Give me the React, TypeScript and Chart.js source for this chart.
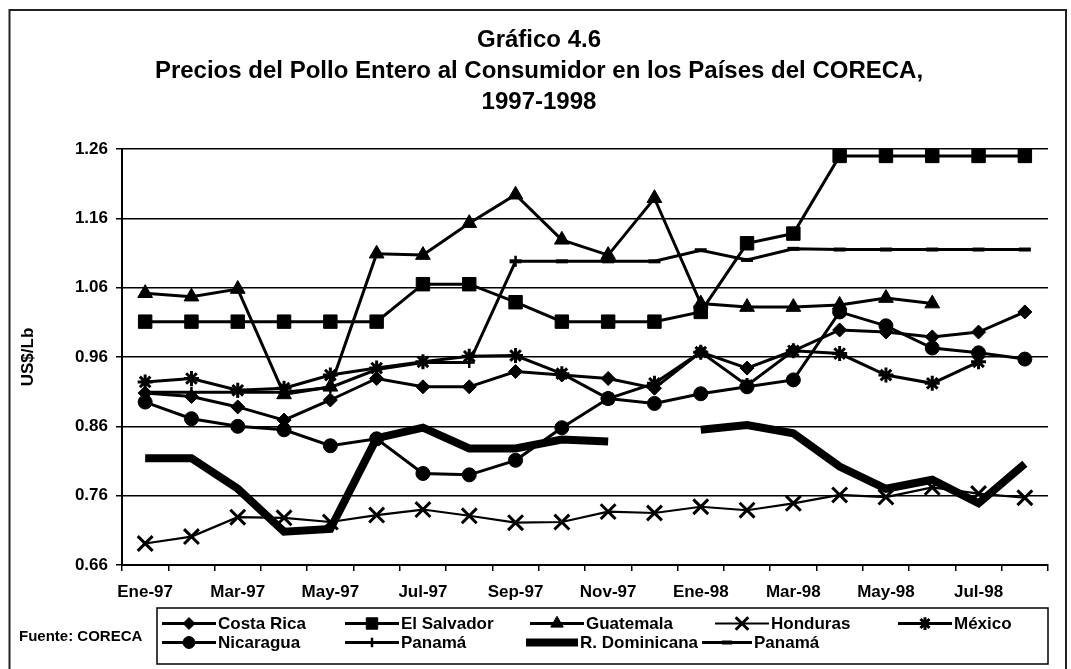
import React, { useEffect, useRef } from 'react';
import { Chart, registerables } from 'chart.js';
import { drawPoint } from 'chart.js/helpers';

Chart.register(...registerables);

const months = [
  'Ene-97', 'Feb-97', 'Mar-97', 'Abr-97', 'May-97', 'Jun-97', 'Jul-97', 'Ago-97', 'Sep-97', 'Oct-97', 'Nov-97', 'Dic-97',
  'Ene-98', 'Feb-98', 'Mar-98', 'Abr-98', 'May-98', 'Jun-98', 'Jul-98', 'Ago-98',
];

const costaRica = [0.908, 0.903, 0.888, 0.869, 0.898, 0.929, 0.917, 0.917, 0.939, 0.934, 0.929, 0.915, 0.967, 0.944, 0.969, 0.999, 0.996, 0.989, 0.996, 1.025];
const elSalvador = [1.011, 1.011, 1.011, 1.011, 1.011, 1.011, 1.065, 1.065, 1.039, 1.011, 1.011, 1.011, 1.025, 1.124, 1.138, 1.25, 1.25, 1.25, 1.25, 1.25];
const guatemala = [1.052, 1.047, 1.058, 0.906, 0.917, 1.109, 1.107, 1.153, 1.194, 1.129, 1.107, 1.189, 1.037, 1.032, 1.032, 1.035, 1.045, 1.037, null, null];
const honduras = [0.691, 0.701, 0.729, 0.728, 0.722, 0.732, 0.74, 0.731, 0.721, 0.722, 0.737, 0.735, 0.744, 0.739, 0.749, 0.761, 0.758, 0.772, 0.763, 0.757];
const mexico = [0.924, 0.929, 0.912, 0.915, 0.934, 0.944, 0.953, 0.961, 0.962, 0.936, 0.9, 0.922, 0.967, 0.919, 0.969, 0.965, 0.934, 0.922, 0.953, null];
const nicaragua = [0.895, 0.871, 0.86, 0.855, 0.832, 0.842, 0.792, 0.79, 0.811, 0.858, 0.9, 0.893, 0.907, 0.917, 0.927, 1.025, 1.005, 0.973, 0.966, 0.957];
const panama1 = [0.909, 0.909, 0.909, 0.909, 0.916, 0.942, 0.952, 0.952, 1.098, null, null, null, null, null, null, null, null, null, null, null];
const rDominicana = [0.814, 0.814, 0.77, 0.708, 0.712, 0.843, 0.858, 0.828, 0.828, 0.841, 0.838, null, 0.855, 0.862, 0.85, 0.802, 0.77, 0.783, 0.749, 0.806];
const panama2 = [null, null, null, null, null, null, null, null, 1.098, 1.098, 1.098, 1.098, 1.114, 1.1, 1.116, 1.115, 1.115, 1.115, 1.115, 1.115];

const yTicks = [0.66, 0.76, 0.86, 0.96, 1.06, 1.16, 1.26];
const titleLines = ['Gráfico 4.6', 'Precios del Pollo Entero al Consumidor en los Países del CORECA,', '1997-1998'];
const yAxisTitle = 'US$/Lb';
const sourceNote = 'Fuente: CORECA';

const FONT = 'Liberation Sans';

type Series = {
  label: string;
  data: (number | null)[];
  pointStyle: any;
  radius: number;
  width: number;
  pointBorder: number;
};

const series: Series[] = [
  { label: 'Costa Rica', data: costaRica, pointStyle: 'rectRot', radius: 7, width: 3, pointBorder: 1 },
  { label: 'El Salvador', data: elSalvador, pointStyle: 'rect', radius: 9.5, width: 3, pointBorder: 1 },
  { label: 'Guatemala', data: guatemala, pointStyle: 'triangle', radius: 8.5, width: 3, pointBorder: 1 },
  { label: 'Honduras', data: honduras, pointStyle: 'crossRot', radius: 10.5, width: 2.2, pointBorder: 3 },
  { label: 'México', data: mexico, pointStyle: 'star', radius: 7.5, width: 3, pointBorder: 3 },
  { label: 'Nicaragua', data: nicaragua, pointStyle: 'circle', radius: 7, width: 3, pointBorder: 1 },
  { label: 'Panamá', data: panama1, pointStyle: 'cross', radius: 5.5, width: 3, pointBorder: 2.5 },
  { label: 'R. Dominicana', data: rDominicana, pointStyle: false, radius: 0, width: 8, pointBorder: 0 },
  { label: 'Panamá', data: panama2, pointStyle: 'line', radius: 6, width: 3, pointBorder: 4 },
];

// legend slot positions (layout only)
const legendSlots = [
  { x: 162, y: 623.5 }, { x: 345, y: 623.5 }, { x: 530, y: 623.5 }, { x: 715, y: 623.5 }, { x: 898, y: 623.5 },
  { x: 162, y: 642.5 }, { x: 345, y: 642.5 }, { x: 526, y: 642.5 }, { x: 702, y: 642.5 },
];
const sampleLens = [54, 54, 54, 54, 54, 54, 54, 52, 50];

const decorPlugin = {
  id: 'decor',
  afterDraw(chart: any) {
    const ctx = chart.ctx as CanvasRenderingContext2D;
    ctx.save();
    // outer frame
    ctx.strokeStyle = '#222';
    ctx.lineWidth = 2;
    ctx.beginPath();
    ctx.moveTo(9.5, 680);
    ctx.lineTo(9.5, 10);
    ctx.lineTo(1066, 10);
    ctx.lineTo(1066, 680);
    ctx.stroke();

    // legend box
    ctx.strokeStyle = '#000';
    ctx.lineWidth = 1.5;
    ctx.strokeRect(157, 608, 891, 56);

    ctx.font = `bold 17px "${FONT}"`;
    ctx.textBaseline = 'middle';
    ctx.textAlign = 'left';
    chart.data.datasets.forEach((ds: any, i: number) => {
      const slot = legendSlots[i];
      if (!slot) return;
      const sampleLen = sampleLens[i];
      ctx.strokeStyle = '#000';
      ctx.fillStyle = '#000';
      ctx.lineWidth = ds.borderWidth;
      ctx.lineCap = 'butt';
      ctx.beginPath();
      ctx.moveTo(slot.x, slot.y);
      ctx.lineTo(slot.x + sampleLen, slot.y);
      ctx.stroke();
      if (ds.pointStyle) {
        ctx.lineWidth = ds.pointBorderWidth;
        drawPoint(ctx, { pointStyle: ds.pointStyle, radius: ds.pointRadius * 0.85, rotation: 0, borderWidth: ds.pointBorderWidth }, slot.x + sampleLen / 2, slot.y);
      }
      ctx.fillStyle = '#000';
      ctx.fillText(ds.label, slot.x + sampleLen + 2, slot.y + 1);
    });

    // source note
    ctx.font = `bold 15px "${FONT}"`;
    ctx.fillText(sourceNote, 19, 637);
    ctx.restore();
  },
};

export default function App() {
  const ref = useRef<HTMLCanvasElement | null>(null);

  useEffect(() => {
    if (!ref.current) return;
    const chart = new Chart(ref.current, {
      type: 'line',
      data: {
        labels: months,
        datasets: series.map((s) => ({
          label: s.label,
          data: s.data,
          borderColor: '#000',
          backgroundColor: '#000',
          borderWidth: s.width,
          pointStyle: s.pointStyle,
          pointRadius: s.radius,
          pointBorderWidth: s.pointBorder,
          pointBorderColor: '#000',
          pointBackgroundColor: '#000',
          tension: 0,
          spanGaps: false,
          fill: false,
          borderJoinStyle: 'miter' as const,
        })),
      },
      options: {
        animation: false,
        responsive: false,
        maintainAspectRatio: false,
        layout: { padding: { left: 30, right: 23, top: 0, bottom: 0 } },
        plugins: {
          legend: { display: false },
          tooltip: { enabled: false },
          title: {
            display: true,
            text: titleLines,
            color: '#000',
            font: { family: FONT, weight: 'bold', size: 24, lineHeight: 31 / 24 },
            padding: { top: 24.5, bottom: 31.5 },
          },
        },
        scales: {
          x: {
            type: 'category',
            offset: true,
            grid: {
              display: true,
              drawOnChartArea: false,
              drawTicks: true,
              tickLength: 6,
              offset: true,
              color: '#000',
              lineWidth: 1.5,
            },
            border: { display: true, color: '#000', width: 2 },
            ticks: {
              color: '#000',
              font: { family: FONT, weight: 'bold', size: 17 },
              padding: 11,
              autoSkip: false,
              maxRotation: 0,
              callback: (_v: any, i: number) => (i % 2 === 0 ? months[i] : ''),
            },
            afterFit: (scale: any) => {
              scale.height = 104;
            },
          },
          y: {
            min: 0.66,
            max: 1.26,
            afterBuildTicks: (scale: any) => {
              scale.ticks = yTicks.map((v) => ({ value: v }));
            },
            grid: { color: '#000', lineWidth: 1.5, tickLength: 6, drawTicks: true },
            border: { display: true, color: '#000', width: 2 },
            ticks: {
              color: '#000',
              font: { family: FONT, weight: 'bold', size: 17 },
              padding: 8,
              callback: (v: any) => Number(v).toFixed(2),
            },
            title: {
              display: true,
              text: yAxisTitle,
              color: '#000',
              font: { family: FONT, weight: 'bold', size: 17, lineHeight: 1.2 },
              padding: { top: -12.2, bottom: 0 },
            },
            afterFit: (scale: any) => {
              scale.width = 92;
            },
          },
        },
      },
      plugins: [decorPlugin],
    });
    return () => chart.destroy();
  }, []);

  return (
    <div style={{ position: 'fixed', left: 0, top: 0, width: 1071, height: 669, background: '#fff' }}>
      <canvas ref={ref} width={1071} height={669} style={{ width: 1071, height: 669, display: 'block' }} />
    </div>
  );
}
